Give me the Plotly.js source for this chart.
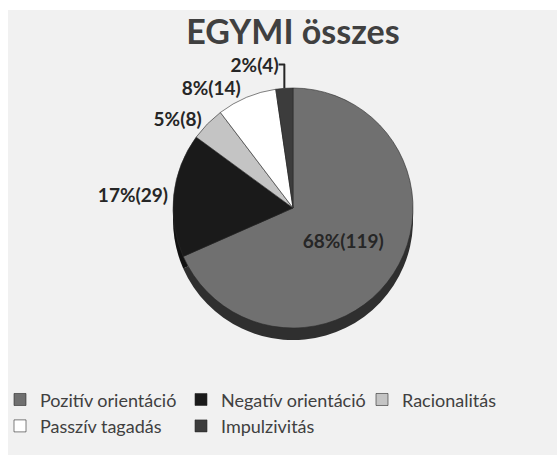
<!DOCTYPE html>
<html>
<head>
<meta charset="utf-8">
<script src="https://cdn.plot.ly/plotly-3.0.1.min.js"></script>
<style>html,body{margin:0;padding:0;background:#fff;}#chart{width:557px;height:455px;}</style>
</head>
<body>
<div id="chart"></div>
<script>
const categories = ["Pozitív orientáció", "Negatív orientáció", "Racionalitás", "Passzív tagadás", "Impulzivitás"];
const counts = [119, 29, 8, 14, 4];
const percentLabels = ["68%", "17%", "5%", "8%", "2%"];
const topColors = ["#707070", "#1a1a1a", "#c4c4c4", "#ffffff", "#3c3c3c"];
const sideColors = ["#2f2f2f", "#111111", "#8a8a8a", "#bdbdbd", "#252525"];
const textPositions = ["inside", "outside", "outside", "outside", "outside"];

const labelsText = categories.map((c, i) => percentLabels[i] + "(" + counts[i] + ")");

const sideTrace = {
  type: "pie",
  labels: categories,
  values: counts,
  sort: false,
  direction: "clockwise",
  rotation: 0,
  marker: {colors: sideColors, line: {width: 0}},
  textinfo: "none",
  hoverinfo: "skip",
  showlegend: false,
  domain: {x: [0.3106, 0.7415], y: [0.2527, 0.7802]}
};

const labelFont = {family: "Lato, 'Open Sans', sans-serif", size: 19, color: "#262626", weight: "bold"};

const topTrace = {
  type: "pie",
  labels: categories,
  values: counts,
  text: labelsText,
  sort: false,
  direction: "clockwise",
  rotation: 0,
  marker: {colors: topColors, line: {color: "#2a2a2a", width: 0.6}},
  texttemplate: "%{text}",
  textposition: textPositions,
  insidetextorientation: "horizontal",
  textfont: labelFont,
  outsidetextfont: labelFont,
  domain: {x: [0.3106, 0.7415], y: [0.2791, 0.8066]}
};

const layout = {
  width: 557,
  height: 455,
  margin: {l: 0, r: 0, t: 0, b: 0},
  paper_bgcolor: "#ffffff",
  font: {family: "Lato, 'Open Sans', sans-serif", color: "#404040"},
  title: {
    text: "<b>EGYMI összes</b>",
    font: {family: "Lato, 'Open Sans', sans-serif", size: 34, color: "#404040"},
    x: 0.526, xanchor: "center",
    y: 0.93, yanchor: "middle"
  },
  shapes: [{
    type: "rect", xref: "paper", yref: "paper", layer: "below",
    x0: 8/557, x1: 1, y0: 0, y1: 1 - 10/455,
    fillcolor: "#f1f1f1", line: {width: 0}
  }],
  legend: {
    orientation: "h",
    x: 0, xanchor: "left",
    y: 0.162, yanchor: "top",
    font: {family: "Lato, 'Open Sans', sans-serif", size: 18, color: "#404040"},
    entrywidth: 136, entrywidthmode: "pixels",
    bgcolor: "rgba(0,0,0,0)",
    traceorder: "normal"
  },
  showlegend: true
};

Plotly.newPlot("chart", [sideTrace, topTrace], layout, {displayModeBar: false, staticPlot: true});
</script>
</body>
</html>
